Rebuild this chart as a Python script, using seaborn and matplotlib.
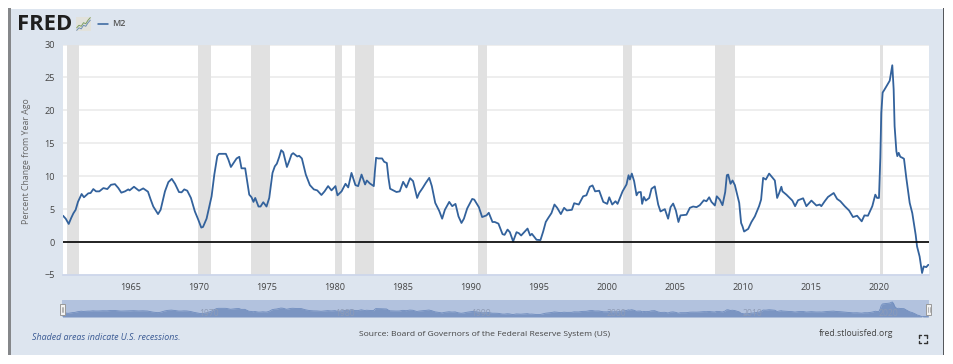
import numpy as np
import pandas as pd
import matplotlib
matplotlib.use("Agg")
import matplotlib.pyplot as plt
import seaborn as sns
from matplotlib.lines import Line2D
from matplotlib.patches import Rectangle

years = [1960.0, 1960.2, 1960.42, 1960.6, 1960.76, 1960.93, 1961.1, 1961.37, 1961.54, 1961.86,
         1962.03, 1962.23, 1962.43, 1962.67, 1962.97, 1963.26, 1963.53, 1963.82, 1964.07, 1964.29,
         1964.56, 1964.8, 1964.9, 1965.22, 1965.59, 1965.9, 1966.25, 1966.45, 1966.64, 1966.99,
         1967.18, 1967.5, 1967.75, 1968.0, 1968.24, 1968.53, 1968.72, 1968.92, 1969.14, 1969.41,
         1969.7, 1969.95, 1970.17, 1970.3, 1970.56, 1970.93, 1971.13, 1971.35, 1971.47, 1971.98,
         1972.16, 1972.35, 1972.77, 1972.97, 1973.13, 1973.4, 1973.55, 1973.7, 1973.87, 1974.01,
         1974.14, 1974.38, 1974.53, 1974.73, 1974.97, 1975.17, 1975.41, 1975.58, 1975.73, 1975.9,
         1976.05, 1976.2, 1976.47, 1976.64, 1976.81, 1976.93, 1977.23, 1977.37, 1977.57, 1977.86,
         1978.16, 1978.45, 1978.7, 1979.01, 1979.24, 1979.5, 1979.75, 1980.04, 1980.19, 1980.49,
         1980.78, 1980.98, 1981.22, 1981.51, 1981.71, 1981.96, 1982.22, 1982.35, 1982.57, 1982.86,
         1982.94, 1983.03, 1983.18, 1983.47, 1983.62, 1983.82, 1983.94, 1984.06, 1984.53, 1984.77,
         1985.02, 1985.26, 1985.53, 1985.75, 1986.05, 1986.2, 1986.45, 1986.69, 1986.94, 1987.13,
         1987.38, 1987.67, 1987.89, 1988.09, 1988.41, 1988.63, 1988.87, 1989.09, 1989.31, 1989.49,
         1989.73, 1990.1, 1990.25, 1990.59, 1990.83, 1991.15, 1991.32, 1991.59, 1991.76, 1992.03,
         1992.33, 1992.48, 1992.7, 1992.87, 1993.11, 1993.36, 1993.53, 1993.7, 1993.97, 1994.17,
         1994.36, 1994.49, 1994.83, 1995.12, 1995.32, 1995.51, 1995.69, 1995.93, 1996.15, 1996.35,
         1996.62, 1996.86, 1997.06, 1997.43, 1997.6, 1997.94, 1998.26, 1998.5, 1998.75, 1998.95,
         1999.14, 1999.44, 1999.74, 2000.03, 2000.18, 2000.4, 2000.64, 2000.79, 2001.16, 2001.45,
         2001.6, 2001.7, 2001.84, 2002.01, 2002.19, 2002.31, 2002.5, 2002.6, 2002.73, 2002.87,
         2003.12, 2003.29, 2003.53, 2003.78, 2003.95, 2004.27, 2004.51, 2004.69, 2004.88, 2005.08,
         2005.27, 2005.42, 2005.86, 2006.11, 2006.35, 2006.6, 2006.84, 2007.14, 2007.33, 2007.53,
         2007.7, 2007.95, 2008.09, 2008.31, 2008.51, 2008.71, 2008.83, 2008.93, 2009.1, 2009.25,
         2009.42, 2009.59, 2009.74, 2009.88, 2009.98, 2010.1, 2010.4, 2010.64, 2010.89, 2011.2,
         2011.35, 2011.5, 2011.7, 2011.94, 2012.14, 2012.36, 2012.53, 2012.68, 2012.84, 2012.92,
         2013.21, 2013.65, 2013.85, 2014.07, 2014.44, 2014.68, 2015.05, 2015.42, 2015.66, 2015.78,
         2016.03, 2016.27, 2016.69, 2016.94, 2017.18, 2017.5, 2017.82, 2018.11, 2018.41, 2018.75,
         2018.95, 2019.21, 2019.53, 2019.75, 2019.88, 2020.02, 2020.12, 2020.19, 2020.29, 2020.44,
         2020.61, 2020.81, 2021.0, 2021.1, 2021.17, 2021.3, 2021.37, 2021.47, 2021.59, 2021.74,
         2021.86, 2022.03, 2022.28, 2022.47, 2022.72, 2022.82, 2023.01, 2023.19, 2023.31, 2023.5,
         2023.65]

m2_change = [4.0, 3.55, 2.75, 3.65, 4.35, 4.9, 6.1, 7.3, 6.8, 7.4,
             7.45, 8.05, 7.7, 7.7, 8.2, 8.05, 8.7, 8.8, 8.2, 7.5,
             7.7, 8.0, 7.85, 8.4, 7.8, 8.15, 7.65, 6.45, 5.4, 4.25,
             4.9, 7.7, 9.1, 9.6, 8.85, 7.6, 7.55, 8.0, 7.8, 6.7,
             4.65, 3.4, 2.2, 2.3, 3.55, 6.95, 10.25, 13.05, 13.4, 13.4,
             12.55, 11.4, 12.7, 12.95, 11.2, 11.2, 9.25, 7.2, 6.8, 6.1,
             6.7, 5.4, 5.4, 6.05, 5.4, 6.7, 10.5, 11.5, 11.9, 12.9,
             13.95, 13.65, 11.4, 12.3, 13.3, 13.5, 13.0, 13.1, 12.7, 10.25,
             8.65, 8.0, 7.85, 7.15, 7.7, 8.5, 7.85, 8.5, 7.1, 7.7,
             8.85, 8.3, 10.5, 8.65, 8.5, 10.25, 8.75, 9.35, 8.9, 8.5,
             10.7, 12.8, 12.7, 12.7, 12.2, 12.0, 9.75, 8.1, 7.6, 7.7,
             9.15, 8.3, 9.7, 9.25, 6.7, 7.45, 8.2, 9.0, 9.75, 8.5,
             5.95, 4.75, 3.55, 4.9, 6.1, 5.45, 5.8, 3.9, 2.9, 3.55,
             5.1, 6.55, 6.45, 5.3, 3.8, 4.05, 4.45, 3.05, 3.05, 2.8,
             1.2, 1.1, 1.9, 1.5, 0.1, 1.5, 1.35, 1.0, 1.6, 2.05,
             1.0, 1.25, 0.35, 0.3, 1.6, 3.05, 3.65, 4.4, 5.7, 5.2,
             4.25, 5.2, 4.8, 4.9, 5.9, 5.7, 6.95, 7.1, 8.4, 8.6,
             7.7, 7.8, 6.1, 5.8, 6.8, 5.7, 6.2, 5.8, 7.7, 8.75,
             10.15, 9.5, 10.4, 9.25, 7.1, 7.55, 7.6, 5.8, 6.85, 6.3,
             6.7, 8.1, 8.45, 5.7, 4.65, 5.0, 3.55, 5.3, 5.85, 4.8,
             3.05, 4.05, 4.15, 5.2, 5.4, 5.3, 5.6, 6.35, 6.2, 6.8,
             6.1, 5.55, 6.95, 6.45, 5.6, 7.6, 10.15, 10.25, 8.85, 9.35,
             8.65, 7.2, 5.95, 2.9, 2.4, 1.6, 2.0, 3.05, 3.9, 5.45,
             6.45, 9.75, 9.5, 10.4, 9.9, 9.35, 6.7, 7.45, 8.4, 7.7,
             7.2, 6.3, 5.45, 6.35, 6.65, 5.45, 6.3, 5.55, 5.7, 5.45,
             6.2, 6.85, 7.45, 6.55, 6.2, 5.45, 4.8, 3.8, 4.0, 3.15,
             4.05, 4.0, 5.45, 7.2, 6.7, 6.7, 12.8, 19.6, 22.7, 23.2,
             23.8, 24.5, 26.85, 23.2, 17.6, 13.8, 13.05, 13.55, 12.95, 12.8,
             12.65, 9.75, 5.95, 4.4, 1.1, -0.65, -2.2, -4.7, -3.7, -3.8,
             -3.45]

recession_start = [1960.3, 1969.95, 1973.85, 1980.0, 1981.5, 1990.5, 2001.2, 2007.95, 2020.1]
recession_end = [1961.15, 1970.87, 1975.2, 1980.52, 1982.87, 1991.2, 2001.87, 2009.45, 2020.3]

y_ticks = [-5, 0, 5, 10, 15, 20, 25, 30]
x_ticks = [1965, 1970, 1975, 1980, 1985, 1990, 1995, 2000, 2005, 2010, 2015, 2020]
nav_labels = [1970, 1980, 1990, 2000, 2010, 2020]

icon_a = [1, 2, 3, 4, 5, 6, 7]
icon_b = [2, 3, 2.6, 4, 3.6, 5, 6]

W, H = 954, 364
LINE = "#33629c"

sns.set_theme(style="white")
plt.rcParams['font.family'] = ['Open Sans', 'DejaVu Sans']

df = pd.DataFrame({"year": years, "m2": m2_change})


def box(left, top, right, bottom):
    # pixel box of the reference -> figure fractions
    return [left / W, 1 - bottom / H, (right - left) / W, (bottom - top) / H]


def rect(fig, left, top, right, bottom, **kw):
    x, y, w, h = box(left, top, right, bottom)
    fig.add_artist(Rectangle((x, y), w, h, transform=fig.transFigure, **kw))


def seg(fig, x0, y0, x1, y1, **kw):
    fig.add_artist(Line2D([x0 / W, x1 / W], [1 - y0 / H, 1 - y1 / H], transform=fig.transFigure, **kw))


fig = plt.figure(figsize=(W / 100, H / 100), dpi=100, facecolor="white")
rect(fig, 10, 9, 943, 355, color="#dde5ef", lw=0, zorder=-5)
rect(fig, 8, 8, 10.5, 355, color="#85878a", lw=0, zorder=-4)
rect(fig, 943, 8, 944, 355, color="#55585c", lw=0, zorder=-4)

# main chart
ax = fig.add_axes(box(63, 44.5, 929, 275))
ax.set_facecolor("white")
ax.set_xlim(1960, 2023.7)
ax.set_ylim(-5, 30)
for a, b in zip(recession_start, recession_end):
    ax.axvspan(a, b, color="#e1e1e1", lw=0, zorder=1)
ax.yaxis.grid(True, color="#ebebeb", lw=1.2, zorder=0.5)
ax.set_axisbelow(True)
sns.lineplot(data=df, x="year", y="m2", ax=ax, color=LINE, lw=1.3, zorder=3, errorbar=None)
ax.axhline(0, color="black", lw=1.2, zorder=4)
sns.despine(ax=ax, left=True, right=True, top=True, bottom=False)
ax.spines["bottom"].set_color("#ccd6eb")
ax.set_xticks(x_ticks)
ax.set_yticks(y_ticks)
ax.tick_params(axis="x", length=4.3, width=0.8, color="#ccd6eb", labelsize=6.6, labelcolor="#444444", pad=1.5)
ax.tick_params(axis="y", length=0, labelsize=6.6, labelcolor="#444444", pad=6)
ax.set_xlabel(None)
ax.set_ylabel(None)
fig.text(27 / W, 1 - 161 / H, "Percent Change from Year Ago", rotation=90, ha="center", va="center",
         fontsize=6.3, color="#666666")

# navigator strip
nav = fig.add_axes(box(62.5, 300, 929, 317))
nav.set_facecolor("#b2c2de")
nav.fill_between(years, m2_change, -5, color="#7b95c2", lw=0)
sns.lineplot(data=df, x="year", y="m2", ax=nav, color="#6f8cbe", lw=0.6, errorbar=None)
nav.set_xlim(1960, 2023.7)
nav.set_ylim(-5, 31)
nav.set_xticks([])
nav.set_yticks([])
nav.set_xlabel(None)
nav.set_ylabel(None)
sns.despine(ax=nav, left=True, right=True, top=True, bottom=True)
for yr in nav_labels:
    nav.text(yr + 0.75, 2.5, str(yr), ha="center", va="center", fontsize=6.2, color="#8f9cb6")
for hx in (62.5, 929):
    rect(fig, hx - 2.5, 304, hx + 2.5, 314.5, facecolor="#f2f2f2", edgecolor="#999999", lw=0.7, zorder=6)
    seg(fig, hx - 0.7, 307, hx - 0.7, 312, color="#999999", lw=0.5, zorder=7)
    seg(fig, hx + 0.7, 307, hx + 0.7, 312, color="#999999", lw=0.5, zorder=7)

# header: logo and legend
fig.text(17 / W, 1 - 24.5 / H, "FRED", fontsize=15.8, fontweight="bold", color="#1f1f1f", ha="left", va="center",
         family=['Open Sans', 'DejaVu Sans'])
icon = fig.add_axes(box(76, 17, 91, 31))
icon.set_facecolor("#e2e2dc")
icon.plot(icon_a, icon_b, color="#7f9f63", lw=0.7)
icon.plot(icon_a, [v - 1 for v in icon_b], color="#6f8fb5", lw=0.7)
icon.set_xticks([])
icon.set_yticks([])
sns.despine(ax=icon, left=True, right=True, top=True, bottom=True)
seg(fig, 97.5, 23.5, 108.5, 23.5, color=LINE, lw=1.1)
fig.text(112.5 / W, 1 - 24 / H, "M2", fontsize=6.4, fontweight="semibold", color="#555555", ha="left", va="center")

# footer
fig.text(32 / W, 1 - 337.5 / H, "Shaded areas indicate U.S. recessions.", fontsize=6.4, style="italic",
         color="#3a5a94", ha="left", va="center")
fig.text(484.5 / W, 1 - 334 / H, "Source: Board of Governors of the Federal Reserve System (US)", fontsize=6.1,
         color="#444444", ha="center", va="center")
fig.text(819 / W, 1 - 334 / H, "fred.stlouisfed.org", fontsize=6.25, color="#444444", ha="left", va="center")

# fullscreen corners
for cx, sx in ((919, 1), (927, -1)):
    for cy, sy in ((335, 1), (343, -1)):
        seg(fig, cx, cy, cx + 2.5 * sx, cy, color="#333333", lw=1)
        seg(fig, cx, cy, cx, cy + 2.5 * sy, color="#333333", lw=1)

fig.savefig("out.png", dpi=100, facecolor="white")
